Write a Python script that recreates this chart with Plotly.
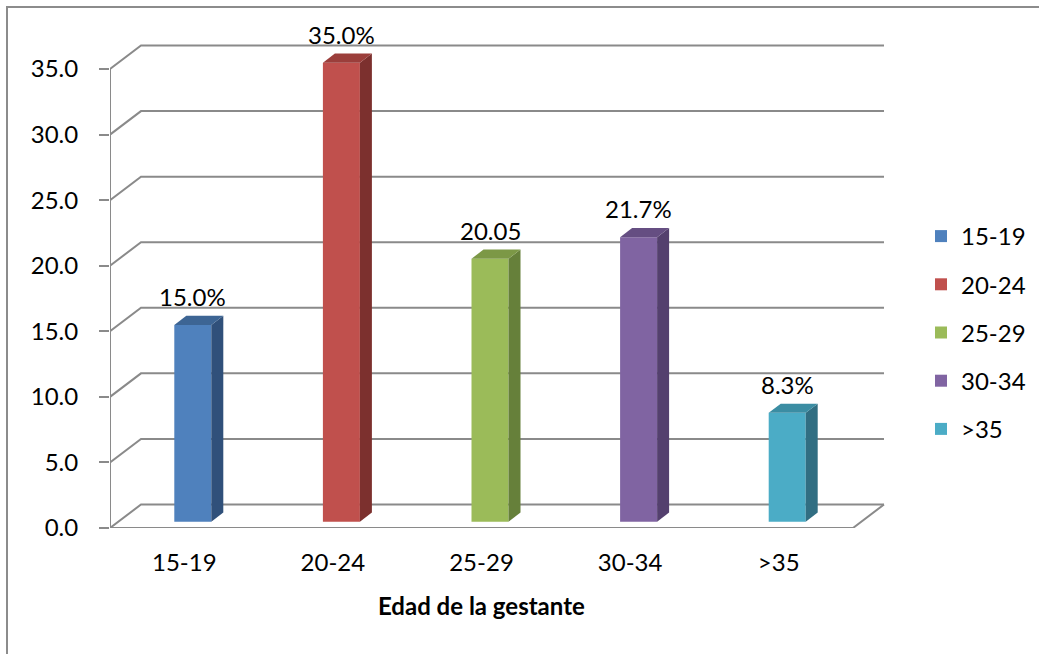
import plotly.graph_objects as go

# ---- data ----
categories = ["15-19", "20-24", "25-29", "30-34", ">35"]
values = [15.0, 35.0, 20.05, 21.7, 8.3]
value_labels = ["15.0%", "35.0%", "20.05", "21.7%", "8.3%"]
y_ticks = [0, 5, 10, 15, 20, 25, 30, 35]
y_tick_text = ["0.0", "5.0", "10.0", "15.0", "20.0", "25.0", "30.0", "35.0"]
axis_title = "Edad de la gestante"

front_colors = ["#4F81BD", "#C0504D", "#9BBB59", "#8064A2", "#4BACC6"]
top_colors = ["#3D6594", "#9B3E3B", "#7C9846", "#654E82", "#3B8DA3"]
side_colors = ["#30507A", "#7C302E", "#66803A", "#54406E", "#316E82"]

# ---- canvas / scale ----
W, H = 1039, 654
ML, MR, MT, MB = 110, 154, 20, 126
PX_PER_CAT = 148.6          # horizontal pixels per category
PX_PER_UNIT = 65.57 / 5     # vertical pixels per value unit
plot_w = W - ML - MR
plot_h = H - MT - MB
x_range = [-0.5, -0.5 + plot_w / PX_PER_CAT]
y_range = [0, plot_h / PX_PER_UNIT]

# oblique projection offsets (converted to data units)
WALL_DX = 31 / PX_PER_CAT
WALL_DY = 23.5 / PX_PER_UNIT
BAR_FX = 8.5 / PX_PER_CAT
BAR_FY = 6.3 / PX_PER_UNIT
BAR_W = 37 / PX_PER_CAT
BAR_DX = 12 / PX_PER_CAT
BAR_DY = 9.2 / PX_PER_UNIT

GRID = "#8A8A8A"
FONT = "Lato"
FS = 24
n = len(categories)
x_lo, x_hi = -0.5, n - 0.5

fig = go.Figure()

# gridlines on the back wall with their left-wall diagonals, plus the floor
shapes = []
for t in y_ticks:
    path = (f"M{x_lo},{t} L{x_lo + WALL_DX},{t + WALL_DY} "
            f"L{x_hi + WALL_DX},{t + WALL_DY}")
    shapes.append(dict(type="path", path=path, xref="x", yref="y",
                       line=dict(color=GRID, width=2), layer="below"))
shapes.append(dict(type="path",
                   path=f"M{x_lo},0 L{x_hi},0 L{x_hi + WALL_DX},{WALL_DY}",
                   xref="x", yref="y", line=dict(color=GRID, width=2),
                   layer="below"))
shapes.append(dict(type="line", x0=x_lo, x1=x_lo, y0=0, y1=max(y_ticks),
                   xref="x", yref="y", line=dict(color=GRID, width=2),
                   layer="below"))
# chart frame
shapes.append(dict(type="rect", xref="paper", yref="paper",
                   x0=(7 - ML) / plot_w, x1=1.6,
                   y0=-0.6, y1=(H - MB - 7) / plot_h,
                   line=dict(color="#8C8C8C", width=2), layer="below"))

annotations = []
for i, (cat, v, lab) in enumerate(zip(categories, values, value_labels)):
    xc = i + BAR_FX
    xl, xr = xc - BAR_W / 2, xc + BAR_W / 2
    base = BAR_FY
    top = base + v
    # front face
    fig.add_trace(go.Bar(x=[xc], y=[v], base=[base], width=[BAR_W], name=cat,
                         legendgroup=cat,
                         marker=dict(color=front_colors[i], line=dict(width=0)),
                         hoverinfo="skip"))
    # side face
    fig.add_trace(go.Scatter(
        x=[xr, xr + BAR_DX, xr + BAR_DX, xr, xr],
        y=[base, base + BAR_DY, top + BAR_DY, top, base],
        fill="toself", fillcolor=side_colors[i], mode="lines",
        line=dict(width=0, color=side_colors[i]), showlegend=False,
        hoverinfo="skip"))
    # top face
    fig.add_trace(go.Scatter(
        x=[xl, xl + BAR_DX, xr + BAR_DX, xr, xl],
        y=[top, top + BAR_DY, top + BAR_DY, top, top],
        fill="toself", fillcolor=top_colors[i], mode="lines",
        line=dict(width=0, color=top_colors[i]), showlegend=False,
        hoverinfo="skip"))
    annotations.append(dict(x=xc, y=top + BAR_DY, text=lab, showarrow=False,
                            xref="x", yref="y", yanchor="bottom", yshift=3,
                            font=dict(family=FONT, size=FS, color="#000000")))

# axis title centred under the floor
annotations.append(dict(x=(n - 1) / 2, y=-77 / plot_h, xref="x", yref="paper",
                        text=f"<b>{axis_title}</b>", showarrow=False,
                        yanchor="middle",
                        font=dict(family=FONT, size=FS, color="#000000")))

fig.update_layout(
    width=W, height=H,
    margin=dict(l=ML, r=MR, t=MT, b=MB, autoexpand=False),
    plot_bgcolor="white", paper_bgcolor="white",
    font=dict(family=FONT, size=FS, color="#000000"),
    barmode="overlay",
    shapes=shapes, annotations=annotations,
    xaxis=dict(range=x_range, tickmode="array", tickvals=list(range(n)),
               ticktext=categories, showgrid=False, zeroline=False,
               showline=False, ticks="", ticklabelstandoff=18,
               automargin=False),
    yaxis=dict(range=y_range, tickmode="array", tickvals=y_ticks,
               ticktext=y_tick_text, showgrid=False, zeroline=False,
               showline=False, ticks="outside", ticklen=10, tickwidth=2,
               tickcolor=GRID, ticklabelstandoff=16, automargin=False),
    legend=dict(x=(921 - ML) / plot_w, xanchor="left",
                y=(H - MB - 214) / plot_h, yanchor="top",
                tracegroupgap=14, font=dict(family=FONT, size=FS),
                bgcolor="rgba(0,0,0,0)"),
    showlegend=True,
)

fig.write_html("out.html")
